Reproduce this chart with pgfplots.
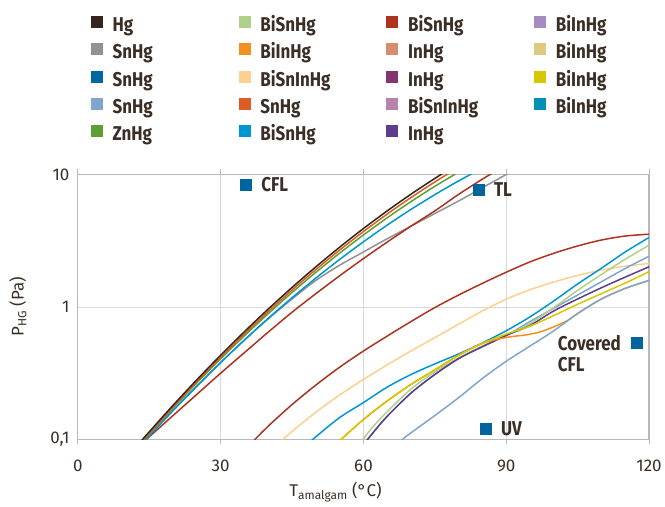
\documentclass[border=0pt]{standalone}
\usepackage{pgfplots}
\pgfplotsset{compat=1.18}
\usepackage{fontspec}
\setmainfont{Fira Sans}
\usepackage{graphicx}

\definecolor{txt}{RGB}{58,46,38}
\definecolor{gridc}{RGB}{217,217,217}
\definecolor{axc}{RGB}{185,185,185}
\definecolor{cMark}{RGB}{0,100,158}
\definecolor{cHg}{RGB}{51,38,28}
\definecolor{cSnGray}{RGB}{146,146,146}
\definecolor{cSnDBlue}{RGB}{0,103,160}
\definecolor{cSnLBlue}{RGB}{127,166,206}
\definecolor{cZn}{RGB}{91,160,51}
\definecolor{cBiSnLG}{RGB}{175,208,139}
\definecolor{cBiInOr}{RGB}{243,144,32}
\definecolor{cBiSnInLO}{RGB}{253,208,142}
\definecolor{cSnOr}{RGB}{224,90,36}
\definecolor{cBiSnBl}{RGB}{0,150,212}
\definecolor{cBiSnRed}{RGB}{172,51,32}
\definecolor{cInSal}{RGB}{217,139,111}
\definecolor{cInMag}{RGB}{132,53,112}
\definecolor{cBiSnInMv}{RGB}{183,132,174}
\definecolor{cInPur}{RGB}{94,61,138}
\definecolor{cBiInLil}{RGB}{165,139,194}
\definecolor{cBiInTan}{RGB}{223,201,126}
\definecolor{cBiInYel}{RGB}{214,200,0}
\definecolor{cBiInTeal}{RGB}{0,144,180}

\newcommand{\lf}{\fontsize{20}{22}\selectfont\bfseries}
\newcommand{\cz}[1]{\scalebox{0.85}[1]{#1}}

\begin{document}
\begin{tikzpicture}
\begin{axis}[
  at={(0pt,0pt)}, anchor=south west,
  scale only axis, width=572pt, height=265.3pt,
  xmin=0, xmax=120, ymin=0.1, ymax=10, ymode=log,
  xtick={0,30,60,90,120}, ytick={0.1,1,10}, yticklabels={{0,1},1,10},
  yminorticks=false,
  grid=major, major grid style={draw=gridc, line width=0.8pt},
  axis line style={draw=axc, line width=1.2pt},
  tick align=outside, major tick length=5pt,
  xtick style={draw=axc, line width=1pt}, ytick style={draw=none},
  /pgf/number format/assume math mode=true,
  tick label style={font=\fontsize{17}{20}\selectfont, text=txt},
  xticklabel style={yshift=-12pt},
  xlabel={T\textsubscript{amalgam} (°C)},
  ylabel={P\textsubscript{HG} (Pa)},
  label style={font=\fontsize{17}{20}\selectfont, text=txt},
  xlabel style={at={(axis description cs:0.451,-0.1998)}, anchor=center},
  ylabel style={at={(axis description cs:-0.105,0.5)}, anchor=center},
  legend columns=4,
  legend style={at={(axis description cs:0.02273,1.5982)}, anchor=north west,
    draw=none, fill=none, inner sep=0pt, outer sep=0pt, font=\lf, text=txt,
    nodes={inner sep=0pt, text width=80pt, text height=13pt, text depth=4pt, align=left},
    /tikz/every odd column/.style={column sep=9.7pt},
    /tikz/every even column/.style={column sep=46.3pt},
    /tikz/row sep=7.9pt},
  legend cell align=left,
  legend image code/.code={\fill[#1] (0pt,-1pt) rectangle (12pt,11pt);},
  every axis plot/.append style={line width=1.5pt, smooth},
]
% legend (row-wise order of a column-filled legend)
\addlegendimage{fill=cHg, draw=none}\addlegendentry{\cz{Hg}}
\addlegendimage{fill=cBiSnLG, draw=none}\addlegendentry{\cz{BiSnHg}}
\addlegendimage{fill=cBiSnRed, draw=none}\addlegendentry{\cz{BiSnHg}}
\addlegendimage{fill=cBiInLil, draw=none}\addlegendentry{\cz{BiInHg}}
\addlegendimage{fill=cSnGray, draw=none}\addlegendentry{\cz{SnHg}}
\addlegendimage{fill=cBiInOr, draw=none}\addlegendentry{\cz{BiInHg}}
\addlegendimage{fill=cInSal, draw=none}\addlegendentry{\cz{InHg}}
\addlegendimage{fill=cBiInTan, draw=none}\addlegendentry{\cz{BiInHg}}
\addlegendimage{fill=cSnDBlue, draw=none}\addlegendentry{\cz{SnHg}}
\addlegendimage{fill=cBiSnInLO, draw=none}\addlegendentry{\cz{BiSnInHg}}
\addlegendimage{fill=cInMag, draw=none}\addlegendentry{\cz{InHg}}
\addlegendimage{fill=cBiInYel, draw=none}\addlegendentry{\cz{BiInHg}}
\addlegendimage{fill=cSnLBlue, draw=none}\addlegendentry{\cz{SnHg}}
\addlegendimage{fill=cSnOr, draw=none}\addlegendentry{\cz{SnHg}}
\addlegendimage{fill=cBiSnInMv, draw=none}\addlegendentry{\cz{BiSnInHg}}
\addlegendimage{fill=cBiInTeal, draw=none}\addlegendentry{\cz{BiInHg}}
\addlegendimage{fill=cZn, draw=none}\addlegendentry{\cz{ZnHg}}
\addlegendimage{fill=cBiSnBl, draw=none}\addlegendentry{\cz{BiSnHg}}
\addlegendimage{fill=cInPur, draw=none}\addlegendentry{\cz{InHg}}

% ---- lower group ----
\addplot[cBiSnRed, forget plot] coordinates {(36,0.0902)(40,0.1259)(45,0.1832)(50,0.257)(55,0.3508)(60,0.4645)(65,0.6026)(70,0.7762)(75,0.9886)(80,1.23)(85,1.507)(90,1.828)(95,2.188)(100,2.541)(105,2.884)(110,3.199)(115,3.428)(120,3.54)};
\addplot[cBiSnInLO, forget plot] coordinates {(42,0.0923)(45,0.1148)(50,0.1603)(55,0.2163)(60,0.2831)(65,0.3656)(70,0.4656)(75,0.5861)(80,0.7413)(85,0.9333)(90,1.143)(95,1.349)(100,1.542)(105,1.73)(110,1.897)(115,2.028)(120,2.128)};
\addplot[cBiSnBl, forget plot] coordinates {(48,0.0902)(50,0.1047)(55,0.1462)(60,0.1897)(65,0.2483)(70,0.309)(75,0.3715)(80,0.4416)(85,0.5346)(90,0.6607)(95,0.8414)(100,1.11)(105,1.49)(110,1.96)(115,2.6)(120,3.342)};
\addplot[cSnLBlue, forget plot] coordinates {(60,0.0912)(62,0.1122)(65,0.1496)(70,0.2239)(75,0.309)(80,0.4074)(85,0.5012)(90,0.6095)(95,0.7762)(100,0.9772)(105,1.23)(110,1.549)(115,1.95)(120,2.415)};
\addplot[cBiSnLG, forget plot] coordinates {(59,0.0912)(60,0.1012)(62,0.1245)(65,0.1622)(70,0.2399)(75,0.3236)(80,0.4121)(85,0.507)(90,0.6095)(95,0.7499)(100,0.9886)(105,1.334)(110,1.758)(115,2.291)(120,2.924)};
\addplot[cInPur, forget plot] coordinates {(60,0.0912)(62,0.1122)(65,0.1496)(70,0.2239)(75,0.309)(80,0.4074)(85,0.5012)(90,0.6095)(95,0.7244)(100,0.9333)(105,1.148)(110,1.396)(115,1.679)(120,2.009)};
\addplot[cBiInOr, forget plot] coordinates {(54,0.0902)(55,0.0977)(60,0.1413)(65,0.195)(70,0.26)(75,0.335)(80,0.4315)(85,0.5309)(88,0.5689)(91,0.5957)(94,0.6138)(97,0.6457)(100,0.7079)(103,0.7943)(105,0.8913)(110,1.148)(115,1.38)(120,1.585)};
\addplot[cSnLBlue, forget plot] coordinates {(66,0.0813)(68.2,0.1)(70,0.1122)(75,0.1514)(80,0.2065)(85,0.2884)(90,0.389)(95,0.507)(100,0.6607)(105,0.8913)(110,1.148)(115,1.38)(120,1.585)};
\addplot[cBiInYel, forget plot] coordinates {(54,0.0902)(55,0.0977)(60,0.1413)(65,0.195)(70,0.26)(75,0.335)(80,0.4315)(85,0.5309)(90,0.6237)(95,0.7161)(100,0.861)(105,1.047)(110,1.259)(115,1.514)(120,1.845)};

% ---- upper group ----
\addplot[cSnGray, forget plot] coordinates {(12,0.0841)(14,0.1)(20,0.166)(25,0.2512)(30,0.3802)(35,0.5623)(40,0.8128)(45,1.148)(50,1.585)(55,2.065)(60,2.6)(65,3.273)(70,4.074)(75,5.07)(80,6.31)(85,7.943)(90,10)(92,10.96)};
\addplot[cBiSnRed, forget plot] coordinates {(12,0.0832)(14.4,0.1)(20,0.1514)(25,0.2188)(30,0.3162)(35,0.4519)(40,0.6457)(45,0.912)(50,1.259)(55,1.718)(60,2.317)(65,3.09)(70,4.074)(75,5.309)(80,7.079)(85,9.226)(88,10.72)};
\addplot[cBiSnBl, forget plot] coordinates {(12,0.0805)(15,0.1059)(20,0.165)(25,0.2528)(30,0.3806)(35,0.5634)(40,0.8202)(45,1.173)(50,1.651)(55,2.283)(60,3.103)(65,4.149)(70,5.452)(75,7.041)(80,8.944)(85,11.17)};
\addplot[cZn, forget plot] coordinates {(12,0.0832)(15,0.11)(20,0.1729)(25,0.2673)(30,0.4061)(35,0.6064)(40,0.8906)(45,1.286)(50,1.825)(55,2.546)(60,3.492)(65,4.71)(70,6.243)(75,8.138)(80,10.42)};
\addplot[cSnOr, forget plot] coordinates {(12,0.0837)(15,0.1111)(20,0.1756)(25,0.2728)(30,0.4169)(35,0.6262)(40,0.9244)(45,1.342)(50,1.915)(55,2.687)(60,3.706)(65,5.025)(70,6.699)(75,8.78)(80,11.31)};
\addplot[cHg, forget plot] coordinates {(12,0.0859)(15,0.1141)(20,0.1809)(25,0.2819)(30,0.4319)(35,0.6508)(40,0.9636)(45,1.403)(50,2.007)(55,2.825)(60,3.907)(65,5.313)(70,7.103)(75,9.337)(78,10.91)};

% ---- lamp type markers ----
\addplot[cMark, only marks, mark=square*, mark size=5.5pt, mark options={solid, line width=0.5pt, draw=cMark, fill=cMark}, forget plot]
  coordinates {(35.24,8.41)} node[anchor=west, xshift=15pt, inner sep=0pt, font=\lf, text=txt] {\cz{CFL}};
\addplot[cMark, only marks, mark=square*, mark size=5.5pt, mark options={solid, line width=0.5pt, draw=cMark, fill=cMark}, forget plot]
  coordinates {(84.12,7.71)} node[anchor=west, xshift=15pt, inner sep=0pt, font=\lf, text=txt] {\cz{TL}};
\addplot[cMark, only marks, mark=square*, mark size=5.5pt, mark options={solid, line width=0.5pt, draw=cMark, fill=cMark}, forget plot]
  coordinates {(85.59,0.121)} node[anchor=west, xshift=15pt, inner sep=0pt, font=\lf, text=txt] {\cz{UV}};
\addplot[cMark, only marks, mark=square*, mark size=5.5pt, mark options={solid, line width=0.5pt, draw=cMark, fill=cMark}, forget plot]
  coordinates {(117.47,0.5362)} node[anchor=west, xshift=-80pt, inner sep=0pt, font=\lf, text=txt] {\cz{Covered}}
  node[anchor=west, xshift=-80pt, yshift=-22pt, inner sep=0pt, font=\lf, text=txt] {\cz{CFL}};
\end{axis}
\path (-78pt,-67pt) rectangle (587pt,440pt);
\end{tikzpicture}
\end{document}
